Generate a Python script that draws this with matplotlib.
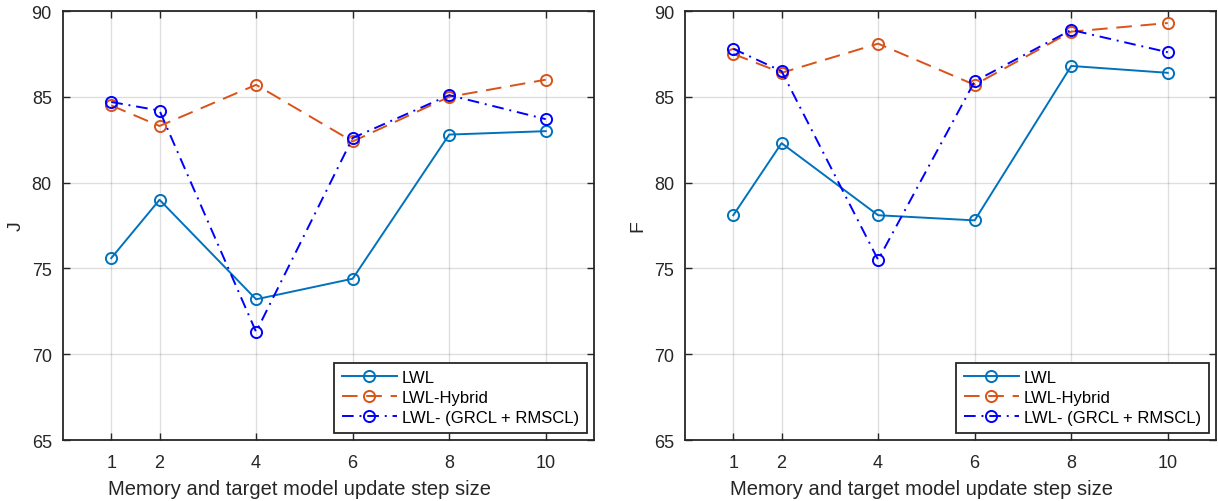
import matplotlib
matplotlib.use("Agg")
import matplotlib.pyplot as plt

plt.rcParams['font.family'] = ['Liberation Sans', 'DejaVu Sans']

steps = [1, 2, 4, 6, 8, 10]
series_names = ['LWL', 'LWL-Hybrid', 'LWL- (GRCL + RMSCL)']

J_lwl = [75.6, 79.0, 73.2, 74.4, 82.8, 83.0]
J_hybrid = [84.5, 83.3, 85.7, 82.4, 85.0, 86.0]
J_grcl = [84.7, 84.2, 71.3, 82.6, 85.1, 83.7]

F_lwl = [78.1, 82.3, 78.1, 77.8, 86.8, 86.4]
F_hybrid = [87.5, 86.4, 88.1, 85.7, 88.8, 89.3]
F_grcl = [87.8, 86.5, 75.5, 85.9, 88.9, 87.6]

yticks = [65, 70, 75, 80, 85, 90]

colors = ['#0072BD', '#D95319', '#0000FF']
styles = ['-', (0, (8, 4.5)), (0, (6, 3, 1, 3))]

fig = plt.figure(figsize=(12.18, 5.02), dpi=100)
axL = fig.add_axes([0.0517, 0.1215, 0.4360, 0.8545])
axR = fig.add_axes([0.5624, 0.1215, 0.4360, 0.8545])

axc = '#262626'
for ax, data, ylab in [(axL, [J_lwl, J_hybrid, J_grcl], 'J'),
                       (axR, [F_lwl, F_hybrid, F_grcl], 'F')]:
    for vals, c, ls, name in zip(data, colors, styles, series_names):
        ax.plot(steps, vals, color=c, linestyle=ls, linewidth=1.4,
                marker='o', markersize=8, markerfacecolor='none',
                markeredgewidth=1.4, label=name)
    ax.set_xlim(0, 11)
    ax.set_ylim(65, 90)
    ax.set_xticks(steps)
    ax.set_yticks(yticks)
    ax.grid(True, color='#000000', alpha=0.13, linewidth=1.0)
    ax.set_axisbelow(True)
    ax.tick_params(direction='in', length=5, width=1.0, colors=axc,
                   labelsize=13, top=True, right=True)
    ax.tick_params(axis='x', pad=10)
    ax.tick_params(axis='y', pad=8)
    for s in ax.spines.values():
        s.set_color(axc)
        s.set_linewidth(1.3)
    ax.set_xlabel('Memory and target model update step size', fontsize=14.5,
                  color=axc, labelpad=6)
    ax.xaxis.label.set_x(0.446)
    ax.set_ylabel(ylab, fontsize=14, color=axc, labelpad=5)
    leg = ax.legend(loc='lower right', fontsize=12, frameon=True, fancybox=False,
                    edgecolor=axc, framealpha=1, borderpad=0.45, labelspacing=0.3,
                    handlelength=3.3, handletextpad=0.3,
                    borderaxespad=0.45)
    leg.get_frame().set_linewidth(1.3)

fig.savefig('out.png', dpi=100)
